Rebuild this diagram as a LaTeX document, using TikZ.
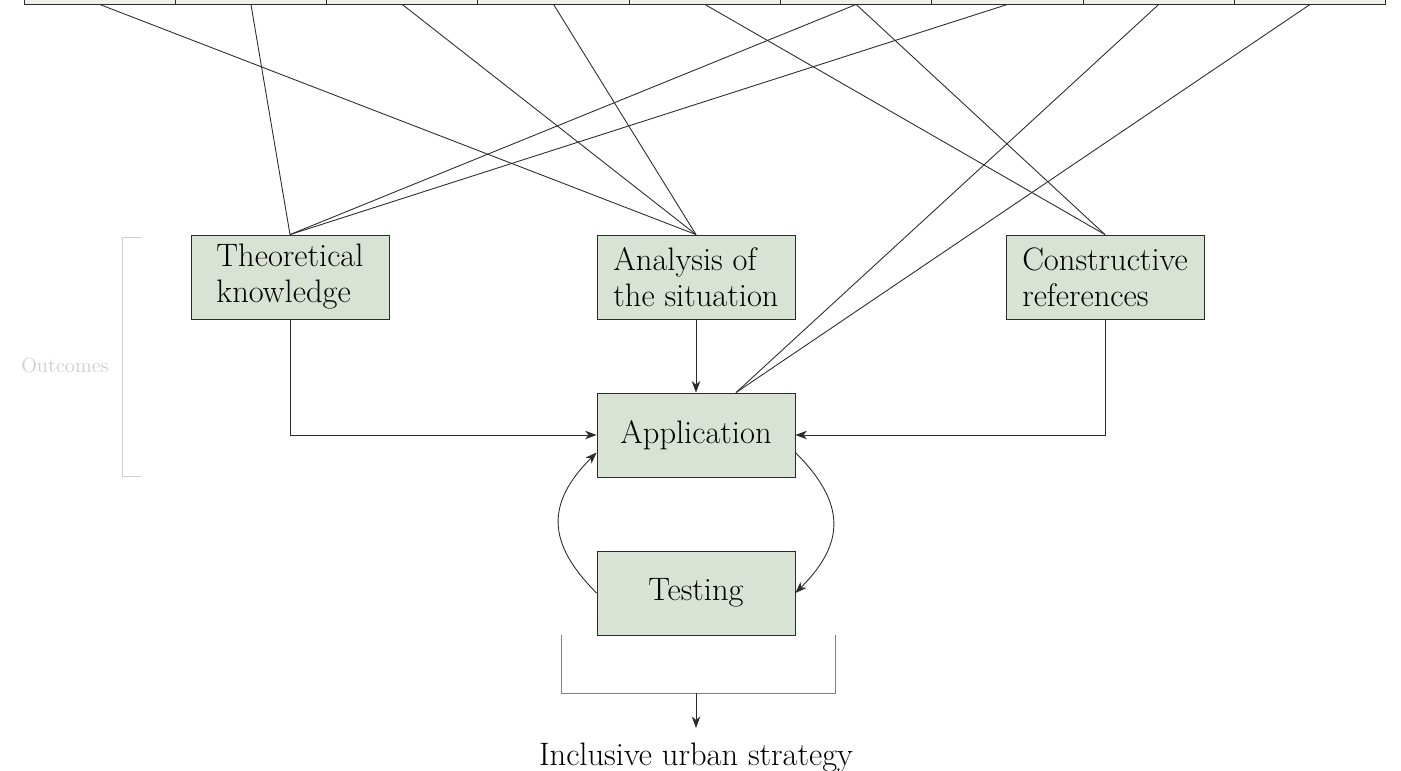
\documentclass[tikz,border=0pt]{standalone}
\usepackage{tikz}
\usetikzlibrary{arrows.meta}
\definecolor{usbox}{HTML}{D8E3D5}
\definecolor{ussrc}{HTML}{EEF2EB}
\definecolor{usline}{HTML}{2B2B2B}
\definecolor{usside}{HTML}{CDCDCD}

\begin{document}
\begin{tikzpicture}[x=0.02cm,y=-0.02cm,>={Stealth[length=2.3mm,width=1.7mm,inset=0.7mm]},line width=0.5pt,
  stagebox/.style={draw=usline,fill=usbox,minimum width=3.96cm,minimum height=1.68cm,
    align=left,font=\fontsize{18.5}{20.5}\selectfont},
  srcbox/.style={draw=usline,fill=ussrc,minimum width=3.026cm,minimum height=1.2cm}]
  \useasboundingbox (0,0) rectangle (1401,771);
  \clip (0,0) rectangle (1401,771);
  % sources (cut at the top)
  \foreach \i in {1,...,9}{\node[srcbox] (src\i) at ({24+151.3*(\i-0.5)},-26) {};}
  % stages
  \node[stagebox] (theo) at (290,277) {Theoretical\\knowledge};
  \node[stagebox] (ana) at (696,277) {Analysis of\\the situation};
  \node[stagebox] (cons) at (1105,277) {Constructive\\references};
  \node[stagebox] (app) at (696,435) {Application};
  \node[stagebox] (test) at (696,593) {Testing};
  \coordinate (apptop) at ([xshift=0.8cm]app.north);
  \foreach \s/\t in {1/ana.north,2/theo.north,3/ana.north,4/ana.north,5/cons.north,
    6/theo.north,6/cons.north,7/theo.north,8/apptop,9/apptop}{
    \draw[usline] (src\s.south) -- (\t);}
  \draw[->,usline] (theo.south) |- (app.west);
  \draw[->,usline] (ana.south) -- (app.north);
  \draw[->,usline] (cons.south) |- (app.east);
  \draw[->,usline] (app.-10) to[out=-45,in=45,looseness=1.3] (test.east);
  \draw[->,usline] (test.west) to[out=135,in=-135,looseness=1.3] (app.190);
  % result
  \coordinate (brl) at (561,635);
  \coordinate (brr) at (835,635);
  \coordinate (brm) at (696,693);
  \draw[gray] (brl) -- ++(0,58) -| (brr);
  \node[font=\fontsize{18.5}{21}\selectfont,anchor=base,inner sep=8pt] (res) at (696,765) {Inclusive urban strategy};
  \draw[->,usline] (brm) -- (res.north);
  % side label
  \draw[usside] (141,237) -- (122,237) -- (122,476) -- (141,476);
  \node[font=\fontsize{11.7}{13}\selectfont,text=usside] (outc) at (65,365) {Outcomes};
\end{tikzpicture}
\end{document}
